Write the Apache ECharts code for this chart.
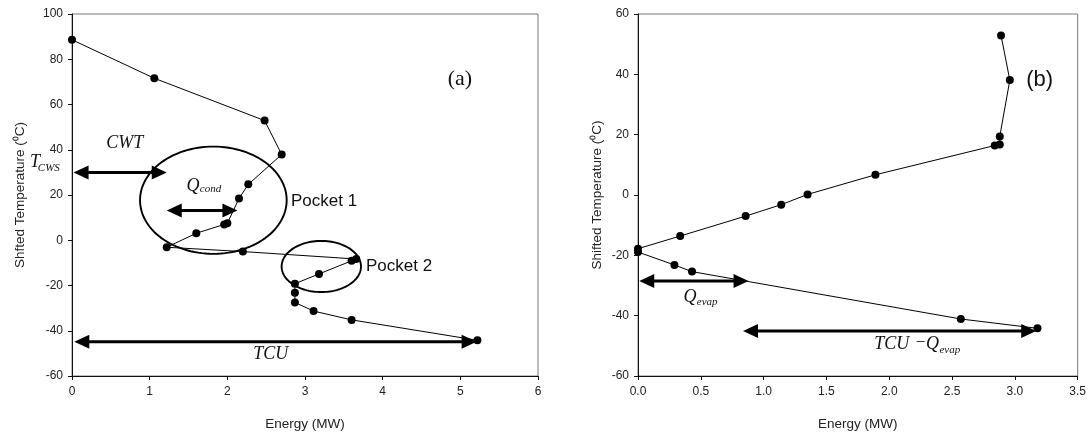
<!DOCTYPE html>
<html>
<head>
<meta charset="utf-8">
<script src="https://cdn.jsdelivr.net/npm/echarts@6/dist/echarts.min.js"></script>
<style>html,body{margin:0;padding:0;background:#fff}#c{width:1089px;height:436px}</style>
</head>
<body>
<div id="c"></div>
<script>
// ---- data: panel (a) ----
const leftEnergy = [0, 1.06, 2.48, 2.70, 2.27, 2.15, 2.0, 1.96, 1.6, 1.22, 2.2, 3.66, 3.6, 3.18, 2.87, 2.87, 2.87, 3.11, 3.6, 5.22];
const leftTemp   = [88.6, 71.6, 52.9, 37.9, 24.7, 18.4, 7.5, 7.0, 3.1, -3.1, -5.0, -8.3, -9.1, -14.9, -19.2, -23.2, -27.5, -31.3, -35.2, -44.2];
// ---- data: panel (b) ----
const rightEnergy = [2.89, 2.96, 2.88, 2.88, 2.84, 1.89, 1.35, 1.14, 0.857, 0.336, 0, 0, 0.29, 0.43, 2.57, 3.18];
const rightTemp   = [52.9, 38.1, 19.4, 16.7, 16.4, 6.7, 0.2, -3.2, -7.0, -13.6, -17.8, -18.9, -23.2, -25.4, -41.1, -44.2];
// ---- axis ticks ----
const leftXTicks = [0, 6, 1];
const leftYTicks = [-60, 100, 20];
const rightXTicks = [0, 3.5, 0.5];
const rightYTicks = [-60, 60, 20];
// ---- annotations (data coordinates) ----
const leftArrows  = [[0.02, 30, 1.22, 30], [1.22, 13.2, 2.13, 13.2], [0.03, -44.9, 5.21, -44.9]];
const rightArrows = [[0.01, -28.5, 0.88, -28.5], [0.836, -45.1, 3.17, -45.1]];
const leftEllipses = [[1.82, 17.7, 0.944, 23.7], [3.21, -11.6, 0.511, 11.3]];
const leftNoteText = ['CWT', 'T', 'CWS', 'Q', 'cond', 'TCU', 'Pocket 1', 'Pocket 2', '(a)'];
const leftNoteX    = [0.68, -0.476, -0.44, 1.558, 1.645, 2.56, 2.82, 3.785, 4.995];
const leftNoteY    = [43.0, 34.4, 32.0, 23.7, 22.4, -50.4, 17.1, -11.4, 71.0];
const leftNoteKind = ['it', 'it', 'sub', 'it', 'sub', 'it', 'sans', 'sans', 'serif'];
const rightNoteText = ['(b)', 'Q', 'evap', 'TCU', '\u2212', 'Q', 'evap'];
const rightNoteX    = [3.198, 0.413, 0.468, 2.02, 2.25, 2.345, 2.40];
const rightNoteY    = [38.1, -33.9, -35.4, -49.6, -49.0, -49.6, -51.5];
const rightNoteKind = ['bsans', 'it', 'sub', 'it', 'op', 'it', 'sub'];

const SANS = "'Liberation Sans', Arial, sans-serif";
const SERIF = "'Liberation Serif', 'Times New Roman', serif";
const kindStyle = {
  it:    {fontFamily: SERIF, fontStyle: 'italic', fontSize: 18, align: 'center'},
  sub:   {fontFamily: SERIF, fontStyle: 'italic', fontSize: 11, align: 'left'},
  op:    {fontFamily: SERIF, fontStyle: 'normal', fontSize: 17, align: 'center'},
  sans:  {fontFamily: SANS, fontStyle: 'normal', fontSize: 17, align: 'left'},
  serif: {fontFamily: SERIF, fontStyle: 'normal', fontSize: 22, align: 'center'},
  bsans: {fontFamily: SANS, fontStyle: 'normal', fontSize: 22, align: 'center'}
};

function xy(xs, ys) { return xs.map((x, i) => [x, ys[i]]); }

function axisCommon(ticks, name, gap, isX, fmt) {
  return {
    type: 'value', min: ticks[0], max: ticks[1], interval: ticks[2],
    name: name, nameLocation: 'middle', nameGap: gap,
    nameTextStyle: {fontFamily: SANS, fontSize: 13.5, color: '#222'},
    axisLine: {show: true, onZero: false, lineStyle: {color: '#111', width: 1}},
    axisTick: {show: true, inside: false, length: 4, lineStyle: {color: '#111'}},
    splitLine: {show: false},
    axisLabel: {fontFamily: SANS, fontSize: 12, color: '#222', margin: isX ? 10 : 9, formatter: fmt}
  };
}

function lineSeries(data, xi) {
  return {
    type: 'line', xAxisIndex: xi, yAxisIndex: xi, data: data,
    symbol: 'circle', symbolSize: 8, clip: false, animation: false,
    lineStyle: {color: '#000', width: 1}, itemStyle: {color: '#000'},
    emphasis: {disabled: true}
  };
}

function arrowSeries(data, xi) {
  return {
    type: 'custom', xAxisIndex: xi, yAxisIndex: xi, clip: false, animation: false, z: 5,
    data: data, silent: true,
    renderItem: function (params, api) {
      const p1 = api.coord([api.value(0), api.value(1)]);
      const p2 = api.coord([api.value(2), api.value(3)]);
      const dx = p2[0] - p1[0], dy = p2[1] - p1[1];
      const len = Math.sqrt(dx * dx + dy * dy);
      const ux = dx / len, uy = dy / len, nx = -uy, ny = ux;
      const L = 15, W = 7;
      const head = (t, s) => [[t[0], t[1]],
        [t[0] - s * ux * L + nx * W, t[1] - s * uy * L + ny * W],
        [t[0] - s * ux * L - nx * W, t[1] - s * uy * L - ny * W]];
      return {type: 'group', children: [
        {type: 'line', shape: {x1: p1[0] + ux * (L - 2), y1: p1[1] + uy * (L - 2), x2: p2[0] - ux * (L - 2), y2: p2[1] - uy * (L - 2)},
          style: {stroke: '#000', lineWidth: 3}},
        {type: 'polygon', shape: {points: head(p1, -1)}, style: {fill: '#000'}},
        {type: 'polygon', shape: {points: head(p2, 1)}, style: {fill: '#000'}}
      ]};
    }
  };
}

function ellipseSeries(data, xi) {
  return {
    type: 'custom', xAxisIndex: xi, yAxisIndex: xi, clip: false, animation: false, z: 4,
    data: data, silent: true,
    renderItem: function (params, api) {
      const c = api.coord([api.value(0), api.value(1)]);
      const s = api.size([api.value(2), api.value(3)]);
      const pts = [];
      for (let k = 0; k < 120; k++) {
        const a = k / 120 * Math.PI * 2;
        pts.push([c[0] + s[0] * Math.cos(a), c[1] + s[1] * Math.sin(a)]);
      }
      return {type: 'polygon', shape: {points: pts}, style: {fill: 'none', stroke: '#000', lineWidth: 1.9}};
    }
  };
}

function noteSeries(texts, xs, ys, kinds, xi) {
  return {
    type: 'custom', xAxisIndex: xi, yAxisIndex: xi, clip: false, animation: false, z: 6,
    data: xs.map((x, i) => [x, ys[i], i]), silent: true,
    renderItem: function (params, api) {
      const p = api.coord([api.value(0), api.value(1)]);
      const i = api.value(2);
      const k = kindStyle[kinds[i]];
      return {type: 'text', x: p[0], y: p[1], style: {
        text: texts[i], fill: '#111', fontFamily: k.fontFamily, fontStyle: k.fontStyle,
        fontSize: k.fontSize, align: k.align, verticalAlign: 'middle'}};
    }
  };
}

const chart = echarts.init(document.getElementById('c'), null, {renderer: 'canvas'});
chart.setOption({
  animation: false,
  backgroundColor: '#fff',
  grid: [
    {left: 72, top: 14, width: 466, height: 365, show: true, borderColor: '#7a7a7a', borderWidth: 1, backgroundColor: 'transparent'},
    {left: 638, top: 14, width: 441, height: 365, show: true, borderColor: '#7a7a7a', borderWidth: 1, backgroundColor: 'transparent'}
  ],
  xAxis: [
    Object.assign(axisCommon(leftXTicks, 'Energy (MW)', 41, true), {gridIndex: 0}),
    Object.assign(axisCommon(rightXTicks, 'Energy (MW)', 41, true, v => v.toFixed(1)), {gridIndex: 1})
  ],
  yAxis: [
    Object.assign(axisCommon(leftYTicks, 'Shfted Temperature (\u2070C)', 45, false), {gridIndex: 0}),
    Object.assign(axisCommon(rightYTicks, 'Shifted Temperature (\u2070C)', 34, false), {gridIndex: 1})
  ],
  series: [
    lineSeries(xy(leftEnergy, leftTemp), 0),
    lineSeries(xy(rightEnergy, rightTemp), 1),
    ellipseSeries(leftEllipses, 0),
    arrowSeries(leftArrows, 0),
    arrowSeries(rightArrows, 1),
    noteSeries(leftNoteText, leftNoteX, leftNoteY, leftNoteKind, 0),
    noteSeries(rightNoteText, rightNoteX, rightNoteY, rightNoteKind, 1)
  ]
});
</script>
</body>
</html>
